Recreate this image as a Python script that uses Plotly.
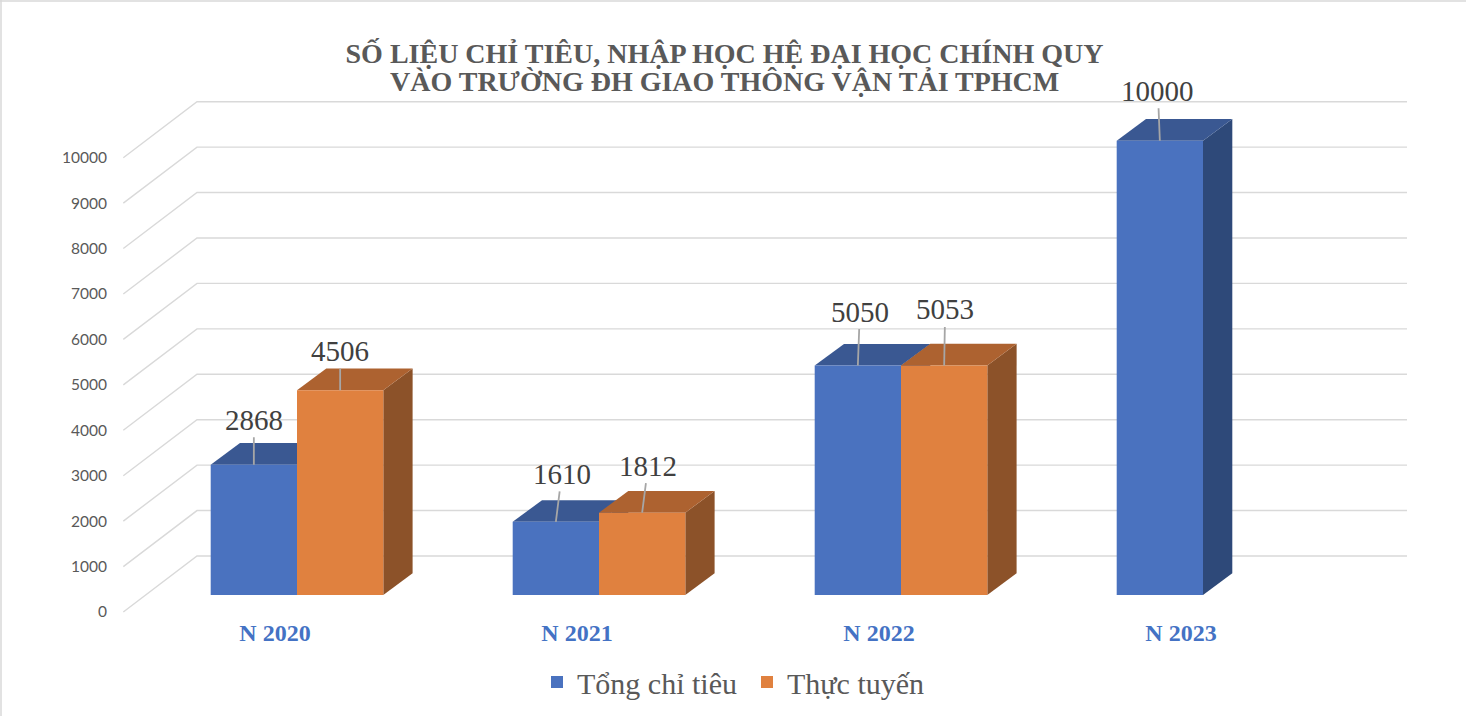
import plotly.graph_objects as go

categories = ["N 2020", "N 2021", "N 2022", "N 2023"]
tong_chi_tieu = [2868, 1610, 5050, 10000]
thuc_tuyen = [4506, 1812, 5053, None]
value_ticks = [0, 1000, 2000, 3000, 4000, 5000, 6000, 7000, 8000, 9000, 10000]
series_names = ["Tổng chỉ tiêu", "Thực tuyến"]
title_lines = ["SỐ LIỆU CHỈ TIÊU, NHẬP HỌC HỆ ĐẠI HỌC CHÍNH QUY",
               "VÀO TRƯỜNG ĐH GIAO THÔNG VẬN TẢI TPHCM"]

# scale: one pixel in data units
W, H = 1466, 716
L, B = 112, 100
PW, PH = W - L, H - B
PXX = 1 / 302.0
PXY = 1 / 0.04543
x_range = [(L - 297) * PXX, (W - 297) * PXX]
y_range = [(595 - PH) * PXY, 595 * PXY]
BAR_W = 86.3 * PXX
DX, DY = 29.3 * PXX, 21.7 * PXY      # bar depth
idx = list(range(len(categories)))

BLUE, ORANGE = "#4A72BF", "#E0813F"
BLUE_TOP, BLUE_SIDE = "#3A5892", "#2E4979"
OR_TOP, OR_SIDE = "#AD6230", "#8C5229"
GRID = "#D9D9D9"
SERIF = "Liberation Serif"

fig = go.Figure()

# walls: back-wall gridlines and slanted side-wall lines
gx, gy = [], []
for v in value_ticks:
    back = v + 39 * PXY
    gx += [(123.3 - 297) * PXX, (197 - 297) * PXX, (1407 - 297) * PXX, None]
    gy += [back - 56 * PXY, back, back, None]
fig.add_trace(go.Scatter(x=gx, y=gy, mode="lines", line=dict(color=GRID, width=1.4),
                         showlegend=False, hoverinfo="skip"))

def faces(values, left_offset, top_col, side_col):
    for i, v in zip(idx, values):
        if v is None:
            continue
        x0 = i + left_offset
        x1 = x0 + BAR_W
        fig.add_trace(go.Scatter(x=[x1, x1 + DX, x1 + DX, x1, x1], y=[0, DY, v + DY, v, 0],
                                 mode="lines", fill="toself", fillcolor=side_col,
                                 line=dict(width=0), showlegend=False, hoverinfo="skip"))
        fig.add_trace(go.Scatter(x=[x0, x1, x1 + DX, x0 + DX, x0], y=[v, v, v + DY, v + DY, v],
                                 mode="lines", fill="toself", fillcolor=top_col,
                                 line=dict(width=0), showlegend=False, hoverinfo="skip"))

faces(tong_chi_tieu, -BAR_W, BLUE_TOP, BLUE_SIDE)
faces(thuc_tuyen, 0, OR_TOP, OR_SIDE)

# front faces, on an overlaid subplot so they cover the depth faces
for name, vals, col in zip(series_names, [tong_chi_tieu, thuc_tuyen], [BLUE, ORANGE]):
    fig.add_trace(go.Bar(x=idx, y=vals, name=name, marker=dict(color=col, line=dict(width=0)),
                         xaxis="x2", yaxis="y2"))

# data labels with leader lines
label_shift = [[(0, -45), (6, -48), (2, -54), (-2, -50)],
               [(0, -39), (6, -47), (1, -56), None]]
annots = []
for k, vals in enumerate([tong_chi_tieu, thuc_tuyen]):
    for i, v in zip(idx, vals):
        if v is None:
            continue
        ax, ay = label_shift[k][i]
        annots.append(dict(x=i + (k - 0.5) * BAR_W, y=v, xref="x", yref="y", text=str(v),
                           showarrow=True, arrowhead=0, arrowwidth=1.8, arrowcolor="#A6A6A6",
                           ax=ax, ay=ay, axref="pixel", ayref="pixel",
                           font=dict(family=SERIF, size=29, color="#404040")))
annots.append(dict(x=(724.5 - L) / PW, y=1 - 82 / PH, xref="paper", yref="paper",
                   text="<b>" + title_lines[1] + "</b>",
                   showarrow=False, xanchor="center", yanchor="middle",
                   font=dict(family=SERIF, size=28, color="#595959")))

border = dict(color=GRID, width=1.5)
fig.update_layout(
    width=W, height=H, margin=dict(l=L, r=0, t=0, b=B, pad=0, autoexpand=False),
    paper_bgcolor="white", plot_bgcolor="rgba(0,0,0,0)",
    barmode="group", bargap=1 - 2 * BAR_W, bargroupgap=0,
    title=dict(text="<b>" + title_lines[0] + "</b>", x=724.5 / W, xanchor="center", xref="container",
               y=1 - 53 / H, yanchor="middle", yref="container",
               font=dict(family=SERIF, size=28, color="#595959")),
    xaxis=dict(range=x_range, tickmode="array", tickvals=idx, ticktext=categories,
               showgrid=False, zeroline=False, showline=False, ticks="",
               ticklabelshift=-22,
               tickfont=dict(family=SERIF, size=24, color="#4472C4", weight="bold")),
    yaxis=dict(range=y_range, tickmode="array", tickvals=value_ticks,
               ticktext=[str(v) for v in value_ticks],
               showgrid=False, zeroline=False, showline=False, ticks="",
               ticklabelshift=17, ticklabelstandoff=4,
               tickfont=dict(family="Lato", size=15.5, color="#595959")),
    xaxis2=dict(range=x_range, overlaying="x", anchor="y2", visible=False),
    yaxis2=dict(range=y_range, overlaying="y", anchor="x2", visible=False),
    legend=dict(orientation="h", x=(537 - L) / PW, xanchor="left", y=1 - 682 / PH, yanchor="middle",
                font=dict(family=SERIF, size=30, color="#595959"),
                entrywidth=165, entrywidthmode="pixels",
                bgcolor="rgba(0,0,0,0)"),
    annotations=annots,
    shapes=[dict(type="line", xref="paper", yref="paper", x0=(1 - L) / PW, x1=(1 - L) / PW,
                 y0=1 - H / PH, y1=1, line=border),
            dict(type="line", xref="paper", yref="paper", x0=-L / PW, x1=1,
                 y0=1 - 1 / PH, y1=1 - 1 / PH, line=border)],
)
fig.write_html("out.html", config=dict(displayModeBar=False),
               post_script="document.body.style.margin='0';")
